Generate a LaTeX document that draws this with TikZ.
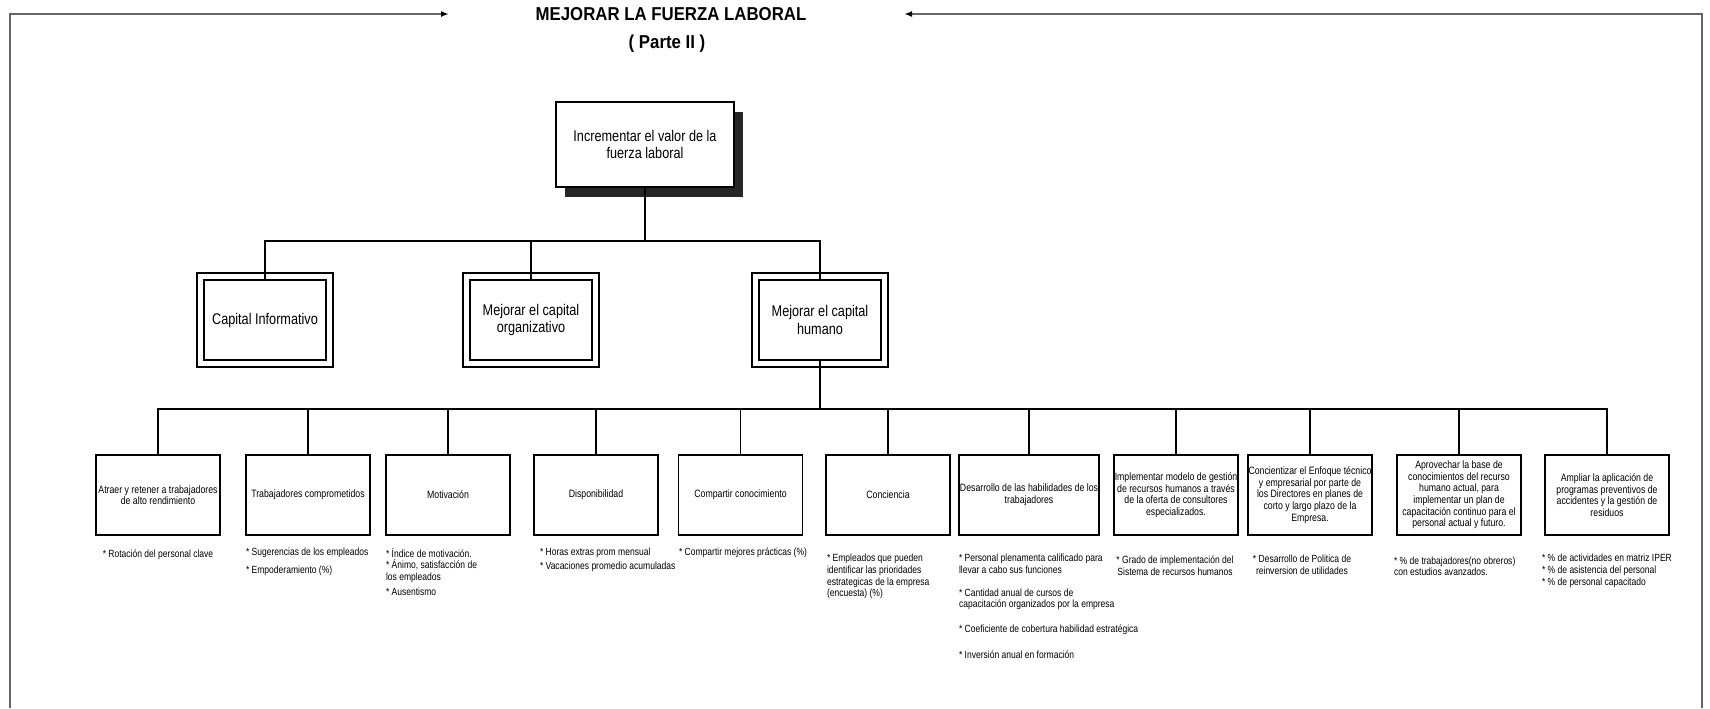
\documentclass[tikz,border=0pt]{standalone}
\usepackage{fontspec}
\setmainfont{Liberation Sans}[FakeStretch=0.82]
\newfontfamily\headfont{Liberation Sans}[FakeStretch=0.9]
\usetikzlibrary{arrows.meta,shadows}

\begin{document}
\begin{tikzpicture}[x=0.75pt,y=-0.75pt,
  every node/.style={inner sep=0pt, outer sep=0pt},
  frameline/.style={draw=black!60, line width=1.3pt},
  tip/.style={-{Latex[length=6pt,width=4.5pt,color=black]}},
  link/.style={draw=black, line width=0.8pt},
  goalbox/.style={draw=black, line width=0.8pt, fill=white, align=center,
    font=\fontsize{11.6pt}{13pt}\selectfont,
    minimum width=133.5pt, minimum height=63.75pt,
    drop shadow={shadow xshift=6.75pt, shadow yshift=-7.5pt, fill=black!85, opacity=1}},
  areabox/.style={draw=black, line width=0.8pt, fill=white, align=center,
    font=\fontsize{11.6pt}{13pt}\selectfont,
    minimum width=91.5pt, minimum height=60pt},
  leafbox/.style={draw=black, line width=0.8pt, fill=white, align=center,
    font=\fontsize{8pt}{8.7pt}\selectfont,
    minimum width=93pt, minimum height=60pt},
  note/.style={align=left, anchor=north west, font=\fontsize{7.8pt}{8.8pt}\selectfont},
  notec/.style={note, align=center, anchor=north},
  headline/.style={font=\headfont\bfseries\fontsize{14pt}{16pt}\selectfont}
]
\useasboundingbox (0,0) rectangle (1710,708);

% heading and frame
\node[headline] (title) at (671,14) {MEJORAR LA FUERZA LABORAL};
\node[headline] (part) at (667,44) {( Parte II )};
\coordinate (tl) at (10,14);
\coordinate (bl) at (10,708);
\coordinate (la) at (449,14);
\coordinate (tr) at (1702,14);
\coordinate (br) at (1702,708);
\coordinate (ra) at (904,14);
\draw[frameline, tip] (bl) -- (tl) -- (la);
\draw[frameline, tip] (br) -- (tr) -- (ra);

% top goal
\node[goalbox] (top) at (645,144.5) {Incrementar el valor de la\\fuerza laboral};

% second level
\node[areabox] (ci) at (265,320) {Capital Informativo};
\node[areabox] (co) at (531,320) {Mejorar el capital\\organizativo};
\node[areabox] (ch) at (820,320) {Mejorar el capital\\humano};
\foreach \n in {ci,co,ch}
  \draw[link] ([shift={(-7,-7)}]\n.north west) rectangle ([shift={(7,7)}]\n.south east);

% third level
\node[leafbox] (b1) at (158,495) {Atraer y retener a trabajadores\\de alto rendimiento};
\node[leafbox] (b2) at (308,495) {Trabajadores comprometidos};
\node[leafbox] (b3) at (448,495) {Motivación};
\node[leafbox] (b4) at (596,495) {Disponibilidad};
\node[leafbox] (b5) at (740.5,495) {Compartir conocimiento};
\node[leafbox] (b6) at (888,495) {Conciencia};
\node[leafbox, minimum width=105pt] (b7) at (1029,495) {Desarrollo de las habilidades de los\\trabajadores};
\node[leafbox] (b8) at (1176,495) {Implementar modelo de gestión\\de recursos humanos a través\\de la oferta de consultores\\especializados.};
\node[leafbox] (b9) at (1310,495) {Concientizar el Enfoque técnico\\y empresarial por parte de\\los Directores en planes de\\corto y largo plazo de la\\Empresa.};
\node[leafbox] (b10) at (1459,495) {Aprovechar la base de\\conocimientos del recurso\\humano actual, para\\implementar un plan de\\capacitación continuo para el\\personal actual y futuro.};
\node[leafbox] (b11) at (1607,495) {Ampliar la aplicación de\\programas preventivos de\\accidentes y la gestión de\\residuos};

% connectors
\foreach \n in {ci,co,ch}
  \draw[link] (top.south) -- ++(0,54) -| (\n.north);
\foreach \n in {b1,b2,b3,b4,b5,b6,b7,b8,b9,b10,b11}
  \draw[link] (ch.south) -- ++(0,49) -| (\n.north);

% indicators
\node[notec] (i1) at (158,550) {* Rotación del personal clave};
\node[note] (i2) at (246,548) {* Sugerencias de los empleados\\[5pt]{*} Empoderamiento (\%)};
\node[note] (i3) at (386,548) {* Índice de motivación.\\{*} Ánimo, satisfacción de\\los empleados\\[2.25pt]{*} Ausentismo};
\node[note] (i4) at (540,548) {* Horas extras prom mensual\\[1.5pt]{*} Vacaciones promedio acumuladas};
\node[note] (i5) at (679,548) {* Compartir mejores prácticas (\%)};
\node[note] (i6) at (827,554) {* Empleados que pueden\\identificar las prioridades\\estrategicas de la empresa\\(encuesta) (\%)};
\node[note] (i7) at (959,554) {* Personal plenamenta calificado para\\llevar a cabo sus funciones\\[8.25pt]{*} Cantidad anual de cursos de\\capacitación organizados por la empresa\\[9.5pt]{*} Coeficiente de cobertura habilidad estratégica\\[11pt]{*} Inversión anual en formación};
\node[notec] (i8) at (1175,556) {* Grado de implementación del\\Sistema de recursos humanos};
\node[notec] (i9) at (1302,555) {* Desarrollo de Politica de\\reinversion de utilidades};
\node[note] (i10) at (1394,556.5) {* \% de trabajadores(no obreros)\\con estudios avanzados.};
\node[note] (i11) at (1542,554) {* \% de actividades en matriz IPER\\{*} \% de asistencia del personal\\{*} \% de personal capacitado};
\end{tikzpicture}
\end{document}
